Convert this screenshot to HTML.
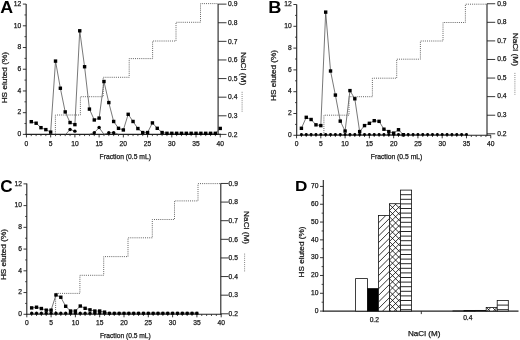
<!DOCTYPE html><html><head><meta charset="utf-8"><style>html,body{margin:0;padding:0;background:#fff;}svg{display:block;will-change:transform;}text{font-family:"Liberation Sans", sans-serif;}.t{stroke:#222;stroke-width:0.25px;}</style></head><body>
<svg width="520" height="340" viewBox="0 0 520 340">
<rect width="520" height="340" fill="#fff"/>
<line x1="26.15" y1="4.1" x2="26.15" y2="134.9" stroke="#222" stroke-width="1.1" />
<line x1="218.1" y1="4.1" x2="218.1" y2="134.9" stroke="#222" stroke-width="1.1" />
<line x1="25.65" y1="134.4" x2="221" y2="134.4" stroke="#222" stroke-width="1.1" />
<line x1="22.85" y1="134.4" x2="26.15" y2="134.4" stroke="#222" stroke-width="0.9" />
<text x="21.25" y="136.1" font-size="6.7" text-anchor="end" fill="#111" class="t" >0</text>
<line x1="24.45" y1="123.54" x2="26.15" y2="123.54" stroke="#222" stroke-width="0.8" />
<line x1="22.85" y1="112.68" x2="26.15" y2="112.68" stroke="#222" stroke-width="0.9" />
<text x="21.25" y="114.38" font-size="6.7" text-anchor="end" fill="#111" class="t" >2</text>
<line x1="24.45" y1="101.82" x2="26.15" y2="101.82" stroke="#222" stroke-width="0.8" />
<line x1="22.85" y1="90.96" x2="26.15" y2="90.96" stroke="#222" stroke-width="0.9" />
<text x="21.25" y="92.66" font-size="6.7" text-anchor="end" fill="#111" class="t" >4</text>
<line x1="24.45" y1="80.1" x2="26.15" y2="80.1" stroke="#222" stroke-width="0.8" />
<line x1="22.85" y1="69.24" x2="26.15" y2="69.24" stroke="#222" stroke-width="0.9" />
<text x="21.25" y="70.94" font-size="6.7" text-anchor="end" fill="#111" class="t" >6</text>
<line x1="24.45" y1="58.38" x2="26.15" y2="58.38" stroke="#222" stroke-width="0.8" />
<line x1="22.85" y1="47.52" x2="26.15" y2="47.52" stroke="#222" stroke-width="0.9" />
<text x="21.25" y="49.22" font-size="6.7" text-anchor="end" fill="#111" class="t" >8</text>
<line x1="24.45" y1="36.66" x2="26.15" y2="36.66" stroke="#222" stroke-width="0.8" />
<line x1="22.85" y1="25.8" x2="26.15" y2="25.8" stroke="#222" stroke-width="0.9" />
<text x="21.25" y="27.5" font-size="6.7" text-anchor="end" fill="#111" class="t" >10</text>
<line x1="24.45" y1="14.94" x2="26.15" y2="14.94" stroke="#222" stroke-width="0.8" />
<line x1="22.85" y1="4.08" x2="26.15" y2="4.08" stroke="#222" stroke-width="0.9" />
<text x="21.25" y="5.78" font-size="6.7" text-anchor="end" fill="#111" class="t" >12</text>
<line x1="26.45" y1="134.4" x2="26.45" y2="137.4" stroke="#222" stroke-width="0.9" />
<text x="26.45" y="145.6" font-size="6.7" text-anchor="middle" fill="#111" class="t" >0</text>
<line x1="31.29" y1="134.4" x2="31.29" y2="136.1" stroke="#222" stroke-width="0.8" />
<line x1="36.14" y1="134.4" x2="36.14" y2="136.1" stroke="#222" stroke-width="0.8" />
<line x1="40.98" y1="134.4" x2="40.98" y2="136.1" stroke="#222" stroke-width="0.8" />
<line x1="45.83" y1="134.4" x2="45.83" y2="136.1" stroke="#222" stroke-width="0.8" />
<line x1="50.67" y1="134.4" x2="50.67" y2="137.4" stroke="#222" stroke-width="0.9" />
<text x="50.67" y="145.6" font-size="6.7" text-anchor="middle" fill="#111" class="t" >5</text>
<line x1="55.52" y1="134.4" x2="55.52" y2="136.1" stroke="#222" stroke-width="0.8" />
<line x1="60.36" y1="134.4" x2="60.36" y2="136.1" stroke="#222" stroke-width="0.8" />
<line x1="65.21" y1="134.4" x2="65.21" y2="136.1" stroke="#222" stroke-width="0.8" />
<line x1="70.05" y1="134.4" x2="70.05" y2="136.1" stroke="#222" stroke-width="0.8" />
<line x1="74.9" y1="134.4" x2="74.9" y2="137.4" stroke="#222" stroke-width="0.9" />
<text x="74.9" y="145.6" font-size="6.7" text-anchor="middle" fill="#111" class="t" >10</text>
<line x1="79.74" y1="134.4" x2="79.74" y2="136.1" stroke="#222" stroke-width="0.8" />
<line x1="84.59" y1="134.4" x2="84.59" y2="136.1" stroke="#222" stroke-width="0.8" />
<line x1="89.44" y1="134.4" x2="89.44" y2="136.1" stroke="#222" stroke-width="0.8" />
<line x1="94.28" y1="134.4" x2="94.28" y2="136.1" stroke="#222" stroke-width="0.8" />
<line x1="99.12" y1="134.4" x2="99.12" y2="137.4" stroke="#222" stroke-width="0.9" />
<text x="99.12" y="145.6" font-size="6.7" text-anchor="middle" fill="#111" class="t" >15</text>
<line x1="103.97" y1="134.4" x2="103.97" y2="136.1" stroke="#222" stroke-width="0.8" />
<line x1="108.81" y1="134.4" x2="108.81" y2="136.1" stroke="#222" stroke-width="0.8" />
<line x1="113.66" y1="134.4" x2="113.66" y2="136.1" stroke="#222" stroke-width="0.8" />
<line x1="118.5" y1="134.4" x2="118.5" y2="136.1" stroke="#222" stroke-width="0.8" />
<line x1="123.35" y1="134.4" x2="123.35" y2="137.4" stroke="#222" stroke-width="0.9" />
<text x="123.35" y="145.6" font-size="6.7" text-anchor="middle" fill="#111" class="t" >20</text>
<line x1="128.19" y1="134.4" x2="128.19" y2="136.1" stroke="#222" stroke-width="0.8" />
<line x1="133.04" y1="134.4" x2="133.04" y2="136.1" stroke="#222" stroke-width="0.8" />
<line x1="137.88" y1="134.4" x2="137.88" y2="136.1" stroke="#222" stroke-width="0.8" />
<line x1="142.73" y1="134.4" x2="142.73" y2="136.1" stroke="#222" stroke-width="0.8" />
<line x1="147.57" y1="134.4" x2="147.57" y2="137.4" stroke="#222" stroke-width="0.9" />
<text x="147.57" y="145.6" font-size="6.7" text-anchor="middle" fill="#111" class="t" >25</text>
<line x1="152.42" y1="134.4" x2="152.42" y2="136.1" stroke="#222" stroke-width="0.8" />
<line x1="157.26" y1="134.4" x2="157.26" y2="136.1" stroke="#222" stroke-width="0.8" />
<line x1="162.11" y1="134.4" x2="162.11" y2="136.1" stroke="#222" stroke-width="0.8" />
<line x1="166.95" y1="134.4" x2="166.95" y2="136.1" stroke="#222" stroke-width="0.8" />
<line x1="171.8" y1="134.4" x2="171.8" y2="137.4" stroke="#222" stroke-width="0.9" />
<text x="171.8" y="145.6" font-size="6.7" text-anchor="middle" fill="#111" class="t" >30</text>
<line x1="176.64" y1="134.4" x2="176.64" y2="136.1" stroke="#222" stroke-width="0.8" />
<line x1="181.49" y1="134.4" x2="181.49" y2="136.1" stroke="#222" stroke-width="0.8" />
<line x1="186.33" y1="134.4" x2="186.33" y2="136.1" stroke="#222" stroke-width="0.8" />
<line x1="191.18" y1="134.4" x2="191.18" y2="136.1" stroke="#222" stroke-width="0.8" />
<line x1="196.02" y1="134.4" x2="196.02" y2="137.4" stroke="#222" stroke-width="0.9" />
<text x="196.02" y="145.6" font-size="6.7" text-anchor="middle" fill="#111" class="t" >35</text>
<line x1="200.87" y1="134.4" x2="200.87" y2="136.1" stroke="#222" stroke-width="0.8" />
<line x1="205.71" y1="134.4" x2="205.71" y2="136.1" stroke="#222" stroke-width="0.8" />
<line x1="210.56" y1="134.4" x2="210.56" y2="136.1" stroke="#222" stroke-width="0.8" />
<line x1="215.4" y1="134.4" x2="215.4" y2="136.1" stroke="#222" stroke-width="0.8" />
<line x1="220.25" y1="134.4" x2="220.25" y2="137.4" stroke="#222" stroke-width="0.9" />
<text x="220.25" y="145.6" font-size="6.7" text-anchor="middle" fill="#111" class="t" >40</text>
<line x1="218.1" y1="134.4" x2="226.5" y2="134.4" stroke="#222" stroke-width="0.9" />
<text x="228.1" y="136.6" font-size="6.7" text-anchor="start" fill="#111" class="t" >0.2</text>
<line x1="218.1" y1="115.79" x2="226.5" y2="115.79" stroke="#222" stroke-width="0.9" />
<text x="228.1" y="117.99" font-size="6.7" text-anchor="start" fill="#111" class="t" >0.3</text>
<line x1="218.1" y1="97.18" x2="226.5" y2="97.18" stroke="#222" stroke-width="0.9" />
<text x="228.1" y="99.38" font-size="6.7" text-anchor="start" fill="#111" class="t" >0.4</text>
<line x1="218.1" y1="78.57" x2="226.5" y2="78.57" stroke="#222" stroke-width="0.9" />
<text x="228.1" y="80.77" font-size="6.7" text-anchor="start" fill="#111" class="t" >0.5</text>
<line x1="218.1" y1="59.96" x2="226.5" y2="59.96" stroke="#222" stroke-width="0.9" />
<text x="228.1" y="62.16" font-size="6.7" text-anchor="start" fill="#111" class="t" >0.6</text>
<line x1="218.1" y1="41.35" x2="226.5" y2="41.35" stroke="#222" stroke-width="0.9" />
<text x="228.1" y="43.55" font-size="6.7" text-anchor="start" fill="#111" class="t" >0.7</text>
<line x1="218.1" y1="22.74" x2="226.5" y2="22.74" stroke="#222" stroke-width="0.9" />
<text x="228.1" y="24.94" font-size="6.7" text-anchor="start" fill="#111" class="t" >0.8</text>
<line x1="218.1" y1="4.13" x2="226.5" y2="4.13" stroke="#222" stroke-width="0.9" />
<text x="228.1" y="6.33" font-size="6.7" text-anchor="start" fill="#111" class="t" >0.9</text>
<polyline fill="none" stroke="#555" stroke-width="0.9" stroke-dasharray="1 1.1" points="55.4,134.4 55.4,115 80.4,115 80.4,96.7 103.2,96.7 103.2,77.3 129.2,77.3 129.2,58.6 152.6,58.6 152.6,41 176,41 176,22.3 200.5,22.3 200.5,3.6 218.1,3.6"/>
<polyline fill="none" stroke="#555" stroke-width="0.8" points="31.29,121.69 36.14,123.21 40.98,127.67 45.83,129.62 50.67,132.12 55.52,61.1 60.36,88.25 65.21,111.92 70.05,122.56 74.9,124.63 79.74,30.8 84.59,66.74 89.44,109.1 94.28,119.96 99.12,118.11 103.97,81.51 108.81,102.58 113.66,121.48 118.5,128.32 123.35,129.95 128.19,114.31 133.04,121.48 137.88,128.54 142.73,132.55 147.57,132.55 152.42,122.89 157.26,128.32 162.11,132.55 166.95,133.31 171.8,133.31 176.64,133.31 181.49,133.31 186.33,133.31 191.18,133.31 196.02,133.31 200.87,133.31 205.71,133.31 210.56,133.31 215.4,133.31 220.25,128.43"/>
<polyline fill="none" stroke="#555" stroke-width="0.8" points="65.69,134.4 70.05,129.51 74.9,131.14"/>
<polyline fill="none" stroke="#555" stroke-width="0.8" points="89.44,134.4 94.28,132.77 99.12,127.56 103.97,134.4 108.81,132.77 113.66,132.77 118.5,134.4"/>
<rect x="29.59" y="119.99" width="3.4" height="3.4" fill="#000"/>
<rect x="34.44" y="121.51" width="3.4" height="3.4" fill="#000"/>
<rect x="39.28" y="125.97" width="3.4" height="3.4" fill="#000"/>
<rect x="44.13" y="127.92" width="3.4" height="3.4" fill="#000"/>
<rect x="48.97" y="130.42" width="3.4" height="3.4" fill="#000"/>
<rect x="53.82" y="59.4" width="3.4" height="3.4" fill="#000"/>
<rect x="58.66" y="86.55" width="3.4" height="3.4" fill="#000"/>
<rect x="63.51" y="110.22" width="3.4" height="3.4" fill="#000"/>
<rect x="68.35" y="120.86" width="3.4" height="3.4" fill="#000"/>
<rect x="73.2" y="122.93" width="3.4" height="3.4" fill="#000"/>
<rect x="78.04" y="29.1" width="3.4" height="3.4" fill="#000"/>
<rect x="82.89" y="65.04" width="3.4" height="3.4" fill="#000"/>
<rect x="87.73" y="107.4" width="3.4" height="3.4" fill="#000"/>
<rect x="92.58" y="118.26" width="3.4" height="3.4" fill="#000"/>
<rect x="97.42" y="116.41" width="3.4" height="3.4" fill="#000"/>
<rect x="102.27" y="79.81" width="3.4" height="3.4" fill="#000"/>
<rect x="107.11" y="100.88" width="3.4" height="3.4" fill="#000"/>
<rect x="111.96" y="119.78" width="3.4" height="3.4" fill="#000"/>
<rect x="116.8" y="126.62" width="3.4" height="3.4" fill="#000"/>
<rect x="121.65" y="128.25" width="3.4" height="3.4" fill="#000"/>
<rect x="126.49" y="112.61" width="3.4" height="3.4" fill="#000"/>
<rect x="131.34" y="119.78" width="3.4" height="3.4" fill="#000"/>
<rect x="136.19" y="126.84" width="3.4" height="3.4" fill="#000"/>
<rect x="141.03" y="130.85" width="3.4" height="3.4" fill="#000"/>
<rect x="145.88" y="130.85" width="3.4" height="3.4" fill="#000"/>
<rect x="150.72" y="121.19" width="3.4" height="3.4" fill="#000"/>
<rect x="155.56" y="126.62" width="3.4" height="3.4" fill="#000"/>
<rect x="160.41" y="130.85" width="3.4" height="3.4" fill="#000"/>
<rect x="165.25" y="131.61" width="3.4" height="3.4" fill="#000"/>
<rect x="170.1" y="131.61" width="3.4" height="3.4" fill="#000"/>
<rect x="174.94" y="131.61" width="3.4" height="3.4" fill="#000"/>
<rect x="179.79" y="131.61" width="3.4" height="3.4" fill="#000"/>
<rect x="184.63" y="131.61" width="3.4" height="3.4" fill="#000"/>
<rect x="189.48" y="131.61" width="3.4" height="3.4" fill="#000"/>
<rect x="194.32" y="131.61" width="3.4" height="3.4" fill="#000"/>
<rect x="199.17" y="131.61" width="3.4" height="3.4" fill="#000"/>
<rect x="204.01" y="131.61" width="3.4" height="3.4" fill="#000"/>
<rect x="208.86" y="131.61" width="3.4" height="3.4" fill="#000"/>
<rect x="213.7" y="131.61" width="3.4" height="3.4" fill="#000"/>
<rect x="218.55" y="126.73" width="3.4" height="3.4" fill="#000"/>
<circle cx="70.05" cy="129.51" r="1.7" fill="#000"/>
<circle cx="74.9" cy="131.14" r="1.7" fill="#000"/>
<circle cx="94.28" cy="132.77" r="1.7" fill="#000"/>
<circle cx="99.12" cy="127.56" r="1.7" fill="#000"/>
<circle cx="108.81" cy="132.77" r="1.7" fill="#000"/>
<circle cx="113.66" cy="132.77" r="1.7" fill="#000"/>
<text x="0" y="0" font-size="16.5" text-anchor="start" fill="#000" font-weight="bold" transform="translate(0.3,12.9) scale(1.08,1)">A</text>
<text x="0" y="0" font-size="7.2" text-anchor="middle" fill="#111" textLength="51.3" lengthAdjust="spacingAndGlyphs" class="t" transform="translate(6.8,77.7) rotate(-90)">HS eluted (%)</text>
<text x="99.6" y="158.6" font-size="6.7" text-anchor="start" fill="#111" textLength="51.3" lengthAdjust="spacingAndGlyphs" class="t" >Fraction (0.5 mL)</text>
<text x="0" y="0" font-size="7.2" text-anchor="middle" fill="#111" textLength="33.3" lengthAdjust="spacingAndGlyphs" class="t" transform="translate(241.1,68.6) rotate(90)">NaCl (M)</text>
<line x1="242.1" y1="91.8" x2="242.1" y2="111.8" stroke="#777" stroke-width="0.9" stroke-dasharray="1 1.1"/>
<line x1="296.7" y1="4.6" x2="296.7" y2="135.8" stroke="#222" stroke-width="1.1" />
<line x1="487" y1="3.75" x2="487" y2="135.8" stroke="#222" stroke-width="1.1" />
<line x1="296.2" y1="135.3" x2="491" y2="135.3" stroke="#222" stroke-width="1.1" />
<line x1="293.4" y1="135.3" x2="296.7" y2="135.3" stroke="#222" stroke-width="0.9" />
<text x="291.8" y="137" font-size="6.7" text-anchor="end" fill="#111" class="t" >0</text>
<line x1="295" y1="124.4" x2="296.7" y2="124.4" stroke="#222" stroke-width="0.8" />
<line x1="293.4" y1="113.5" x2="296.7" y2="113.5" stroke="#222" stroke-width="0.9" />
<text x="291.8" y="115.2" font-size="6.7" text-anchor="end" fill="#111" class="t" >2</text>
<line x1="295" y1="102.6" x2="296.7" y2="102.6" stroke="#222" stroke-width="0.8" />
<line x1="293.4" y1="91.7" x2="296.7" y2="91.7" stroke="#222" stroke-width="0.9" />
<text x="291.8" y="93.4" font-size="6.7" text-anchor="end" fill="#111" class="t" >4</text>
<line x1="295" y1="80.8" x2="296.7" y2="80.8" stroke="#222" stroke-width="0.8" />
<line x1="293.4" y1="69.9" x2="296.7" y2="69.9" stroke="#222" stroke-width="0.9" />
<text x="291.8" y="71.6" font-size="6.7" text-anchor="end" fill="#111" class="t" >6</text>
<line x1="295" y1="59" x2="296.7" y2="59" stroke="#222" stroke-width="0.8" />
<line x1="293.4" y1="48.1" x2="296.7" y2="48.1" stroke="#222" stroke-width="0.9" />
<text x="291.8" y="49.8" font-size="6.7" text-anchor="end" fill="#111" class="t" >8</text>
<line x1="295" y1="37.2" x2="296.7" y2="37.2" stroke="#222" stroke-width="0.8" />
<line x1="293.4" y1="26.3" x2="296.7" y2="26.3" stroke="#222" stroke-width="0.9" />
<text x="291.8" y="28" font-size="6.7" text-anchor="end" fill="#111" class="t" >10</text>
<line x1="295" y1="15.4" x2="296.7" y2="15.4" stroke="#222" stroke-width="0.8" />
<line x1="293.4" y1="4.5" x2="296.7" y2="4.5" stroke="#222" stroke-width="0.9" />
<text x="291.8" y="6.2" font-size="6.7" text-anchor="end" fill="#111" class="t" >12</text>
<line x1="296.55" y1="135.3" x2="296.55" y2="138.3" stroke="#222" stroke-width="0.9" />
<text x="296.55" y="146.1" font-size="6.7" text-anchor="middle" fill="#111" class="t" >0</text>
<line x1="301.41" y1="135.3" x2="301.41" y2="137" stroke="#222" stroke-width="0.8" />
<line x1="306.26" y1="135.3" x2="306.26" y2="137" stroke="#222" stroke-width="0.8" />
<line x1="311.12" y1="135.3" x2="311.12" y2="137" stroke="#222" stroke-width="0.8" />
<line x1="315.97" y1="135.3" x2="315.97" y2="137" stroke="#222" stroke-width="0.8" />
<line x1="320.82" y1="135.3" x2="320.82" y2="138.3" stroke="#222" stroke-width="0.9" />
<text x="320.82" y="146.1" font-size="6.7" text-anchor="middle" fill="#111" class="t" >5</text>
<line x1="325.68" y1="135.3" x2="325.68" y2="137" stroke="#222" stroke-width="0.8" />
<line x1="330.54" y1="135.3" x2="330.54" y2="137" stroke="#222" stroke-width="0.8" />
<line x1="335.39" y1="135.3" x2="335.39" y2="137" stroke="#222" stroke-width="0.8" />
<line x1="340.25" y1="135.3" x2="340.25" y2="137" stroke="#222" stroke-width="0.8" />
<line x1="345.1" y1="135.3" x2="345.1" y2="138.3" stroke="#222" stroke-width="0.9" />
<text x="345.1" y="146.1" font-size="6.7" text-anchor="middle" fill="#111" class="t" >10</text>
<line x1="349.96" y1="135.3" x2="349.96" y2="137" stroke="#222" stroke-width="0.8" />
<line x1="354.81" y1="135.3" x2="354.81" y2="137" stroke="#222" stroke-width="0.8" />
<line x1="359.67" y1="135.3" x2="359.67" y2="137" stroke="#222" stroke-width="0.8" />
<line x1="364.52" y1="135.3" x2="364.52" y2="137" stroke="#222" stroke-width="0.8" />
<line x1="369.38" y1="135.3" x2="369.38" y2="138.3" stroke="#222" stroke-width="0.9" />
<text x="369.38" y="146.1" font-size="6.7" text-anchor="middle" fill="#111" class="t" >15</text>
<line x1="374.23" y1="135.3" x2="374.23" y2="137" stroke="#222" stroke-width="0.8" />
<line x1="379.09" y1="135.3" x2="379.09" y2="137" stroke="#222" stroke-width="0.8" />
<line x1="383.94" y1="135.3" x2="383.94" y2="137" stroke="#222" stroke-width="0.8" />
<line x1="388.8" y1="135.3" x2="388.8" y2="137" stroke="#222" stroke-width="0.8" />
<line x1="393.65" y1="135.3" x2="393.65" y2="138.3" stroke="#222" stroke-width="0.9" />
<text x="393.65" y="146.1" font-size="6.7" text-anchor="middle" fill="#111" class="t" >20</text>
<line x1="398.5" y1="135.3" x2="398.5" y2="137" stroke="#222" stroke-width="0.8" />
<line x1="403.36" y1="135.3" x2="403.36" y2="137" stroke="#222" stroke-width="0.8" />
<line x1="408.22" y1="135.3" x2="408.22" y2="137" stroke="#222" stroke-width="0.8" />
<line x1="413.07" y1="135.3" x2="413.07" y2="137" stroke="#222" stroke-width="0.8" />
<line x1="417.93" y1="135.3" x2="417.93" y2="138.3" stroke="#222" stroke-width="0.9" />
<text x="417.93" y="146.1" font-size="6.7" text-anchor="middle" fill="#111" class="t" >25</text>
<line x1="422.78" y1="135.3" x2="422.78" y2="137" stroke="#222" stroke-width="0.8" />
<line x1="427.63" y1="135.3" x2="427.63" y2="137" stroke="#222" stroke-width="0.8" />
<line x1="432.49" y1="135.3" x2="432.49" y2="137" stroke="#222" stroke-width="0.8" />
<line x1="437.35" y1="135.3" x2="437.35" y2="137" stroke="#222" stroke-width="0.8" />
<line x1="442.2" y1="135.3" x2="442.2" y2="138.3" stroke="#222" stroke-width="0.9" />
<text x="442.2" y="146.1" font-size="6.7" text-anchor="middle" fill="#111" class="t" >30</text>
<line x1="447.06" y1="135.3" x2="447.06" y2="137" stroke="#222" stroke-width="0.8" />
<line x1="451.91" y1="135.3" x2="451.91" y2="137" stroke="#222" stroke-width="0.8" />
<line x1="456.76" y1="135.3" x2="456.76" y2="137" stroke="#222" stroke-width="0.8" />
<line x1="461.62" y1="135.3" x2="461.62" y2="137" stroke="#222" stroke-width="0.8" />
<line x1="466.48" y1="135.3" x2="466.48" y2="138.3" stroke="#222" stroke-width="0.9" />
<text x="466.48" y="146.1" font-size="6.7" text-anchor="middle" fill="#111" class="t" >35</text>
<line x1="471.33" y1="135.3" x2="471.33" y2="137" stroke="#222" stroke-width="0.8" />
<line x1="476.19" y1="135.3" x2="476.19" y2="137" stroke="#222" stroke-width="0.8" />
<line x1="481.04" y1="135.3" x2="481.04" y2="137" stroke="#222" stroke-width="0.8" />
<line x1="485.9" y1="135.3" x2="485.9" y2="137" stroke="#222" stroke-width="0.8" />
<line x1="490.75" y1="135.3" x2="490.75" y2="138.3" stroke="#222" stroke-width="0.9" />
<text x="490.75" y="146.1" font-size="6.7" text-anchor="middle" fill="#111" class="t" >40</text>
<line x1="487" y1="133.8" x2="495.2" y2="133.8" stroke="#222" stroke-width="0.9" />
<text x="497.2" y="135.6" font-size="6.7" text-anchor="start" fill="#111" class="t" >0.2</text>
<line x1="487" y1="115.22" x2="495.2" y2="115.22" stroke="#222" stroke-width="0.9" />
<text x="497.2" y="117.02" font-size="6.7" text-anchor="start" fill="#111" class="t" >0.3</text>
<line x1="487" y1="96.64" x2="495.2" y2="96.64" stroke="#222" stroke-width="0.9" />
<text x="497.2" y="98.44" font-size="6.7" text-anchor="start" fill="#111" class="t" >0.4</text>
<line x1="487" y1="78.06" x2="495.2" y2="78.06" stroke="#222" stroke-width="0.9" />
<text x="497.2" y="79.86" font-size="6.7" text-anchor="start" fill="#111" class="t" >0.5</text>
<line x1="487" y1="59.48" x2="495.2" y2="59.48" stroke="#222" stroke-width="0.9" />
<text x="497.2" y="61.28" font-size="6.7" text-anchor="start" fill="#111" class="t" >0.6</text>
<line x1="487" y1="40.9" x2="495.2" y2="40.9" stroke="#222" stroke-width="0.9" />
<text x="497.2" y="42.7" font-size="6.7" text-anchor="start" fill="#111" class="t" >0.7</text>
<line x1="487" y1="22.32" x2="495.2" y2="22.32" stroke="#222" stroke-width="0.9" />
<text x="497.2" y="24.12" font-size="6.7" text-anchor="start" fill="#111" class="t" >0.8</text>
<line x1="487" y1="3.74" x2="495.2" y2="3.74" stroke="#222" stroke-width="0.9" />
<text x="497.2" y="5.54" font-size="6.7" text-anchor="start" fill="#111" class="t" >0.9</text>
<polyline fill="none" stroke="#555" stroke-width="0.9" stroke-dasharray="1 1.1" points="323.9,135.3 323.9,115.2 349,115.2 349,96.7 372.4,96.7 372.4,78.2 396.7,78.2 396.7,59.2 420.4,59.2 420.4,41 443,41 443,22.5 465.4,22.5 465.4,4.2 487,4.2"/>
<polyline fill="none" stroke="#555" stroke-width="0.8" points="301.41,128.32 306.26,117.32 311.12,119.5 315.97,124.84 320.82,125.6 325.68,12.13 330.54,70.99 335.39,95.08 340.25,121.13 345.1,131.05 349.96,90.61 354.81,98.79 359.67,131.59 364.52,125.6 369.38,123.31 374.23,120.69 379.09,121.35 383.94,129.2 388.8,131.59 393.65,133.12 398.5,129.74 403.36,134.76"/>
<polyline fill="none" stroke="#555" stroke-width="0.8" points="301.41,134.43 306.26,134.43 311.12,134.43 315.97,134.43 320.82,134.43 325.68,134.43 330.54,134.43 335.39,134.43 340.25,134.43 345.1,134.43 349.96,134.43 354.81,134.43 359.67,134.43 364.52,134.43 369.38,134.43 374.23,134.43 379.09,134.43 383.94,134.43 388.8,134.43 393.65,134.43 398.5,134.43 403.36,134.43 408.22,134.43 413.07,134.43 417.93,134.43 422.78,134.43 427.63,134.43 432.49,134.43 437.35,134.43 442.2,134.43 447.06,134.43 451.91,134.43 456.76,134.43 461.62,134.43 466.48,134.43"/>
<rect x="299.71" y="126.62" width="3.4" height="3.4" fill="#000"/>
<rect x="304.56" y="115.62" width="3.4" height="3.4" fill="#000"/>
<rect x="309.42" y="117.8" width="3.4" height="3.4" fill="#000"/>
<rect x="314.27" y="123.14" width="3.4" height="3.4" fill="#000"/>
<rect x="319.12" y="123.9" width="3.4" height="3.4" fill="#000"/>
<rect x="323.98" y="10.43" width="3.4" height="3.4" fill="#000"/>
<rect x="328.84" y="69.29" width="3.4" height="3.4" fill="#000"/>
<rect x="333.69" y="93.38" width="3.4" height="3.4" fill="#000"/>
<rect x="338.55" y="119.43" width="3.4" height="3.4" fill="#000"/>
<rect x="343.4" y="129.35" width="3.4" height="3.4" fill="#000"/>
<rect x="348.26" y="88.91" width="3.4" height="3.4" fill="#000"/>
<rect x="353.11" y="97.09" width="3.4" height="3.4" fill="#000"/>
<rect x="357.97" y="129.89" width="3.4" height="3.4" fill="#000"/>
<rect x="362.82" y="123.9" width="3.4" height="3.4" fill="#000"/>
<rect x="367.68" y="121.61" width="3.4" height="3.4" fill="#000"/>
<rect x="372.53" y="118.99" width="3.4" height="3.4" fill="#000"/>
<rect x="377.39" y="119.65" width="3.4" height="3.4" fill="#000"/>
<rect x="382.24" y="127.5" width="3.4" height="3.4" fill="#000"/>
<rect x="387.1" y="129.89" width="3.4" height="3.4" fill="#000"/>
<rect x="391.95" y="131.42" width="3.4" height="3.4" fill="#000"/>
<rect x="396.81" y="128.04" width="3.4" height="3.4" fill="#000"/>
<rect x="401.66" y="133.06" width="3.4" height="3.4" fill="#000"/>
<circle cx="301.41" cy="134.43" r="1.45" fill="#000"/>
<circle cx="306.26" cy="134.43" r="1.45" fill="#000"/>
<circle cx="311.12" cy="134.43" r="1.45" fill="#000"/>
<circle cx="315.97" cy="134.43" r="1.45" fill="#000"/>
<circle cx="320.82" cy="134.43" r="1.45" fill="#000"/>
<circle cx="325.68" cy="134.43" r="1.45" fill="#000"/>
<circle cx="330.54" cy="134.43" r="1.45" fill="#000"/>
<circle cx="335.39" cy="134.43" r="1.45" fill="#000"/>
<circle cx="340.25" cy="134.43" r="1.45" fill="#000"/>
<circle cx="345.1" cy="134.43" r="1.45" fill="#000"/>
<circle cx="349.96" cy="134.43" r="1.45" fill="#000"/>
<circle cx="354.81" cy="134.43" r="1.45" fill="#000"/>
<circle cx="359.67" cy="134.43" r="1.45" fill="#000"/>
<circle cx="364.52" cy="134.43" r="1.45" fill="#000"/>
<circle cx="369.38" cy="134.43" r="1.45" fill="#000"/>
<circle cx="374.23" cy="134.43" r="1.45" fill="#000"/>
<circle cx="379.09" cy="134.43" r="1.45" fill="#000"/>
<circle cx="383.94" cy="134.43" r="1.45" fill="#000"/>
<circle cx="388.8" cy="134.43" r="1.45" fill="#000"/>
<circle cx="393.65" cy="134.43" r="1.45" fill="#000"/>
<circle cx="398.5" cy="134.43" r="1.45" fill="#000"/>
<circle cx="403.36" cy="134.43" r="1.45" fill="#000"/>
<circle cx="408.22" cy="134.43" r="1.45" fill="#000"/>
<circle cx="413.07" cy="134.43" r="1.45" fill="#000"/>
<circle cx="417.93" cy="134.43" r="1.45" fill="#000"/>
<circle cx="422.78" cy="134.43" r="1.45" fill="#000"/>
<circle cx="427.63" cy="134.43" r="1.45" fill="#000"/>
<circle cx="432.49" cy="134.43" r="1.45" fill="#000"/>
<circle cx="437.35" cy="134.43" r="1.45" fill="#000"/>
<circle cx="442.2" cy="134.43" r="1.45" fill="#000"/>
<circle cx="447.06" cy="134.43" r="1.45" fill="#000"/>
<circle cx="451.91" cy="134.43" r="1.45" fill="#000"/>
<circle cx="456.76" cy="134.43" r="1.45" fill="#000"/>
<circle cx="461.62" cy="134.43" r="1.45" fill="#000"/>
<circle cx="466.48" cy="134.43" r="1.45" fill="#000"/>
<text x="0" y="0" font-size="15.6" text-anchor="start" fill="#000" font-weight="bold" transform="translate(268.3,12.8) scale(1.17,1)">B</text>
<text x="0" y="0" font-size="7.2" text-anchor="middle" fill="#111" textLength="51" lengthAdjust="spacingAndGlyphs" class="t" transform="translate(276.3,75.4) rotate(-90)">HS eluted (%)</text>
<text x="370.8" y="158.5" font-size="6.7" text-anchor="start" fill="#111" textLength="51.5" lengthAdjust="spacingAndGlyphs" class="t" >Fraction (0.5 mL)</text>
<text x="0" y="0" font-size="7.2" text-anchor="middle" fill="#111" textLength="33.3" lengthAdjust="spacingAndGlyphs" class="t" transform="translate(513.3,49.3) rotate(90)">NaCl (M)</text>
<line x1="514.9" y1="72.9" x2="514.9" y2="94.7" stroke="#777" stroke-width="0.9" stroke-dasharray="1 1.1"/>
<line x1="26.8" y1="183.5" x2="26.8" y2="314.8" stroke="#222" stroke-width="1.1" />
<line x1="220.8" y1="183.3" x2="220.8" y2="314.8" stroke="#222" stroke-width="1.1" />
<line x1="26.3" y1="314.3" x2="221.5" y2="314.3" stroke="#222" stroke-width="1.1" />
<line x1="23.5" y1="314.3" x2="26.8" y2="314.3" stroke="#222" stroke-width="0.9" />
<text x="21.9" y="316" font-size="6.7" text-anchor="end" fill="#111" class="t" >0</text>
<line x1="25.1" y1="303.43" x2="26.8" y2="303.43" stroke="#222" stroke-width="0.8" />
<line x1="23.5" y1="292.56" x2="26.8" y2="292.56" stroke="#222" stroke-width="0.9" />
<text x="21.9" y="294.26" font-size="6.7" text-anchor="end" fill="#111" class="t" >2</text>
<line x1="25.1" y1="281.69" x2="26.8" y2="281.69" stroke="#222" stroke-width="0.8" />
<line x1="23.5" y1="270.82" x2="26.8" y2="270.82" stroke="#222" stroke-width="0.9" />
<text x="21.9" y="272.52" font-size="6.7" text-anchor="end" fill="#111" class="t" >4</text>
<line x1="25.1" y1="259.95" x2="26.8" y2="259.95" stroke="#222" stroke-width="0.8" />
<line x1="23.5" y1="249.08" x2="26.8" y2="249.08" stroke="#222" stroke-width="0.9" />
<text x="21.9" y="250.78" font-size="6.7" text-anchor="end" fill="#111" class="t" >6</text>
<line x1="25.1" y1="238.21" x2="26.8" y2="238.21" stroke="#222" stroke-width="0.8" />
<line x1="23.5" y1="227.34" x2="26.8" y2="227.34" stroke="#222" stroke-width="0.9" />
<text x="21.9" y="229.04" font-size="6.7" text-anchor="end" fill="#111" class="t" >8</text>
<line x1="25.1" y1="216.47" x2="26.8" y2="216.47" stroke="#222" stroke-width="0.8" />
<line x1="23.5" y1="205.6" x2="26.8" y2="205.6" stroke="#222" stroke-width="0.9" />
<text x="21.9" y="207.3" font-size="6.7" text-anchor="end" fill="#111" class="t" >10</text>
<line x1="25.1" y1="194.73" x2="26.8" y2="194.73" stroke="#222" stroke-width="0.8" />
<line x1="23.5" y1="183.86" x2="26.8" y2="183.86" stroke="#222" stroke-width="0.9" />
<text x="21.9" y="185.56" font-size="6.7" text-anchor="end" fill="#111" class="t" >12</text>
<line x1="26.8" y1="314.3" x2="26.8" y2="317.3" stroke="#222" stroke-width="0.9" />
<text x="26.8" y="324.8" font-size="6.7" text-anchor="middle" fill="#111" class="t" >0</text>
<line x1="31.66" y1="314.3" x2="31.66" y2="316" stroke="#222" stroke-width="0.8" />
<line x1="36.52" y1="314.3" x2="36.52" y2="316" stroke="#222" stroke-width="0.8" />
<line x1="41.38" y1="314.3" x2="41.38" y2="316" stroke="#222" stroke-width="0.8" />
<line x1="46.24" y1="314.3" x2="46.24" y2="316" stroke="#222" stroke-width="0.8" />
<line x1="51.1" y1="314.3" x2="51.1" y2="317.3" stroke="#222" stroke-width="0.9" />
<text x="51.1" y="324.8" font-size="6.7" text-anchor="middle" fill="#111" class="t" >5</text>
<line x1="55.96" y1="314.3" x2="55.96" y2="316" stroke="#222" stroke-width="0.8" />
<line x1="60.82" y1="314.3" x2="60.82" y2="316" stroke="#222" stroke-width="0.8" />
<line x1="65.68" y1="314.3" x2="65.68" y2="316" stroke="#222" stroke-width="0.8" />
<line x1="70.54" y1="314.3" x2="70.54" y2="316" stroke="#222" stroke-width="0.8" />
<line x1="75.4" y1="314.3" x2="75.4" y2="317.3" stroke="#222" stroke-width="0.9" />
<text x="75.4" y="324.8" font-size="6.7" text-anchor="middle" fill="#111" class="t" >10</text>
<line x1="80.26" y1="314.3" x2="80.26" y2="316" stroke="#222" stroke-width="0.8" />
<line x1="85.12" y1="314.3" x2="85.12" y2="316" stroke="#222" stroke-width="0.8" />
<line x1="89.98" y1="314.3" x2="89.98" y2="316" stroke="#222" stroke-width="0.8" />
<line x1="94.84" y1="314.3" x2="94.84" y2="316" stroke="#222" stroke-width="0.8" />
<line x1="99.7" y1="314.3" x2="99.7" y2="317.3" stroke="#222" stroke-width="0.9" />
<text x="99.7" y="324.8" font-size="6.7" text-anchor="middle" fill="#111" class="t" >15</text>
<line x1="104.56" y1="314.3" x2="104.56" y2="316" stroke="#222" stroke-width="0.8" />
<line x1="109.42" y1="314.3" x2="109.42" y2="316" stroke="#222" stroke-width="0.8" />
<line x1="114.28" y1="314.3" x2="114.28" y2="316" stroke="#222" stroke-width="0.8" />
<line x1="119.14" y1="314.3" x2="119.14" y2="316" stroke="#222" stroke-width="0.8" />
<line x1="124" y1="314.3" x2="124" y2="317.3" stroke="#222" stroke-width="0.9" />
<text x="124" y="324.8" font-size="6.7" text-anchor="middle" fill="#111" class="t" >20</text>
<line x1="128.86" y1="314.3" x2="128.86" y2="316" stroke="#222" stroke-width="0.8" />
<line x1="133.72" y1="314.3" x2="133.72" y2="316" stroke="#222" stroke-width="0.8" />
<line x1="138.58" y1="314.3" x2="138.58" y2="316" stroke="#222" stroke-width="0.8" />
<line x1="143.44" y1="314.3" x2="143.44" y2="316" stroke="#222" stroke-width="0.8" />
<line x1="148.3" y1="314.3" x2="148.3" y2="317.3" stroke="#222" stroke-width="0.9" />
<text x="148.3" y="324.8" font-size="6.7" text-anchor="middle" fill="#111" class="t" >25</text>
<line x1="153.16" y1="314.3" x2="153.16" y2="316" stroke="#222" stroke-width="0.8" />
<line x1="158.02" y1="314.3" x2="158.02" y2="316" stroke="#222" stroke-width="0.8" />
<line x1="162.88" y1="314.3" x2="162.88" y2="316" stroke="#222" stroke-width="0.8" />
<line x1="167.74" y1="314.3" x2="167.74" y2="316" stroke="#222" stroke-width="0.8" />
<line x1="172.6" y1="314.3" x2="172.6" y2="317.3" stroke="#222" stroke-width="0.9" />
<text x="172.6" y="324.8" font-size="6.7" text-anchor="middle" fill="#111" class="t" >30</text>
<line x1="177.46" y1="314.3" x2="177.46" y2="316" stroke="#222" stroke-width="0.8" />
<line x1="182.32" y1="314.3" x2="182.32" y2="316" stroke="#222" stroke-width="0.8" />
<line x1="187.18" y1="314.3" x2="187.18" y2="316" stroke="#222" stroke-width="0.8" />
<line x1="192.04" y1="314.3" x2="192.04" y2="316" stroke="#222" stroke-width="0.8" />
<line x1="196.9" y1="314.3" x2="196.9" y2="317.3" stroke="#222" stroke-width="0.9" />
<text x="196.9" y="324.8" font-size="6.7" text-anchor="middle" fill="#111" class="t" >35</text>
<line x1="201.76" y1="314.3" x2="201.76" y2="316" stroke="#222" stroke-width="0.8" />
<line x1="206.62" y1="314.3" x2="206.62" y2="316" stroke="#222" stroke-width="0.8" />
<line x1="211.48" y1="314.3" x2="211.48" y2="316" stroke="#222" stroke-width="0.8" />
<line x1="216.34" y1="314.3" x2="216.34" y2="316" stroke="#222" stroke-width="0.8" />
<line x1="221.2" y1="314.3" x2="221.2" y2="317.3" stroke="#222" stroke-width="0.9" />
<text x="221.2" y="324.8" font-size="6.7" text-anchor="middle" fill="#111" class="t" >40</text>
<line x1="220.8" y1="313.8" x2="228.5" y2="313.8" stroke="#222" stroke-width="0.9" />
<text x="228.6" y="316" font-size="6.7" text-anchor="start" fill="#111" class="t" >0.2</text>
<line x1="220.8" y1="295.18" x2="228.5" y2="295.18" stroke="#222" stroke-width="0.9" />
<text x="228.6" y="297.38" font-size="6.7" text-anchor="start" fill="#111" class="t" >0.3</text>
<line x1="220.8" y1="276.56" x2="228.5" y2="276.56" stroke="#222" stroke-width="0.9" />
<text x="228.6" y="278.76" font-size="6.7" text-anchor="start" fill="#111" class="t" >0.4</text>
<line x1="220.8" y1="257.94" x2="228.5" y2="257.94" stroke="#222" stroke-width="0.9" />
<text x="228.6" y="260.14" font-size="6.7" text-anchor="start" fill="#111" class="t" >0.5</text>
<line x1="220.8" y1="239.32" x2="228.5" y2="239.32" stroke="#222" stroke-width="0.9" />
<text x="228.6" y="241.52" font-size="6.7" text-anchor="start" fill="#111" class="t" >0.6</text>
<line x1="220.8" y1="220.7" x2="228.5" y2="220.7" stroke="#222" stroke-width="0.9" />
<text x="228.6" y="222.9" font-size="6.7" text-anchor="start" fill="#111" class="t" >0.7</text>
<line x1="220.8" y1="202.08" x2="228.5" y2="202.08" stroke="#222" stroke-width="0.9" />
<text x="228.6" y="204.28" font-size="6.7" text-anchor="start" fill="#111" class="t" >0.8</text>
<line x1="220.8" y1="183.46" x2="228.5" y2="183.46" stroke="#222" stroke-width="0.9" />
<text x="228.6" y="185.66" font-size="6.7" text-anchor="start" fill="#111" class="t" >0.9</text>
<polyline fill="none" stroke="#555" stroke-width="0.9" stroke-dasharray="1 1.1" points="55.6,314.3 55.6,293.4 79.9,293.4 79.9,275.3 103.7,275.3 103.7,256.6 128,256.6 128,237.8 152.3,237.8 152.3,219.5 174.5,219.5 174.5,200.9 198,200.9 198,183.6 220.8,183.6"/>
<polyline fill="none" stroke="#555" stroke-width="0.8" points="31.66,307.89 36.52,307.23 41.38,308.54 46.24,310.17 51.1,310.17 55.96,294.95 60.82,297.23 65.68,306.26 70.54,311.04 75.4,311.04 80.26,306.04 85.12,308.32 89.98,309.84 94.84,311.04 99.7,311.04 104.56,312.13 109.42,313.21 114.28,313.21 119.14,313.21 124,313.21 128.86,313.21 133.72,313.21 138.58,313.21 143.44,313.21 148.3,313.21 153.16,313.21 158.02,313.21 162.88,313.21 167.74,313.21 172.6,313.21 177.46,313.21 182.32,313.21 187.18,313.21 192.04,313.21 196.9,313.21"/>
<polyline fill="none" stroke="#555" stroke-width="0.8" points="31.66,313.21 36.52,313.21 41.38,313.21 46.24,313.21 51.1,313.21 55.96,313.21 60.82,313.21 65.68,313.21 70.54,313.21 75.4,313.21 80.26,313.21 85.12,313.21 89.98,313.21 94.84,313.21 99.7,313.21 104.56,313.21 109.42,313.21 114.28,313.21 119.14,313.21 124,313.21 128.86,313.21 133.72,313.21 138.58,313.21 143.44,313.21 148.3,313.21 153.16,313.21 158.02,313.21 162.88,313.21 167.74,313.21 172.6,313.21 177.46,313.21 182.32,313.21 187.18,313.21 192.04,313.21 196.9,313.21"/>
<rect x="29.96" y="306.19" width="3.4" height="3.4" fill="#000"/>
<rect x="34.82" y="305.53" width="3.4" height="3.4" fill="#000"/>
<rect x="39.68" y="306.84" width="3.4" height="3.4" fill="#000"/>
<rect x="44.54" y="308.47" width="3.4" height="3.4" fill="#000"/>
<rect x="49.4" y="308.47" width="3.4" height="3.4" fill="#000"/>
<rect x="54.26" y="293.25" width="3.4" height="3.4" fill="#000"/>
<rect x="59.12" y="295.53" width="3.4" height="3.4" fill="#000"/>
<rect x="63.98" y="304.56" width="3.4" height="3.4" fill="#000"/>
<rect x="68.84" y="309.34" width="3.4" height="3.4" fill="#000"/>
<rect x="73.7" y="309.34" width="3.4" height="3.4" fill="#000"/>
<rect x="78.56" y="304.34" width="3.4" height="3.4" fill="#000"/>
<rect x="83.42" y="306.62" width="3.4" height="3.4" fill="#000"/>
<rect x="88.28" y="308.14" width="3.4" height="3.4" fill="#000"/>
<rect x="93.14" y="309.34" width="3.4" height="3.4" fill="#000"/>
<rect x="98" y="309.34" width="3.4" height="3.4" fill="#000"/>
<rect x="102.86" y="310.43" width="3.4" height="3.4" fill="#000"/>
<rect x="107.97" y="311.76" width="2.9" height="2.9" fill="#000"/>
<rect x="112.83" y="311.76" width="2.9" height="2.9" fill="#000"/>
<rect x="117.69" y="311.76" width="2.9" height="2.9" fill="#000"/>
<rect x="122.55" y="311.76" width="2.9" height="2.9" fill="#000"/>
<rect x="127.41" y="311.76" width="2.9" height="2.9" fill="#000"/>
<rect x="132.27" y="311.76" width="2.9" height="2.9" fill="#000"/>
<rect x="137.13" y="311.76" width="2.9" height="2.9" fill="#000"/>
<rect x="141.99" y="311.76" width="2.9" height="2.9" fill="#000"/>
<rect x="146.85" y="311.76" width="2.9" height="2.9" fill="#000"/>
<rect x="151.71" y="311.76" width="2.9" height="2.9" fill="#000"/>
<rect x="156.57" y="311.76" width="2.9" height="2.9" fill="#000"/>
<rect x="161.43" y="311.76" width="2.9" height="2.9" fill="#000"/>
<rect x="166.29" y="311.76" width="2.9" height="2.9" fill="#000"/>
<rect x="171.15" y="311.76" width="2.9" height="2.9" fill="#000"/>
<rect x="176.01" y="311.76" width="2.9" height="2.9" fill="#000"/>
<rect x="180.87" y="311.76" width="2.9" height="2.9" fill="#000"/>
<rect x="185.73" y="311.76" width="2.9" height="2.9" fill="#000"/>
<rect x="190.59" y="311.76" width="2.9" height="2.9" fill="#000"/>
<rect x="195.45" y="311.76" width="2.9" height="2.9" fill="#000"/>
<circle cx="31.66" cy="313.21" r="1.6" fill="#000"/>
<circle cx="36.52" cy="313.21" r="1.6" fill="#000"/>
<circle cx="41.38" cy="313.21" r="1.6" fill="#000"/>
<circle cx="46.24" cy="313.21" r="1.6" fill="#000"/>
<circle cx="51.1" cy="313.21" r="1.6" fill="#000"/>
<circle cx="55.96" cy="313.21" r="1.6" fill="#000"/>
<circle cx="60.82" cy="313.21" r="1.6" fill="#000"/>
<circle cx="65.68" cy="313.21" r="1.6" fill="#000"/>
<circle cx="70.54" cy="313.21" r="1.6" fill="#000"/>
<circle cx="75.4" cy="313.21" r="1.6" fill="#000"/>
<circle cx="80.26" cy="313.21" r="1.6" fill="#000"/>
<circle cx="85.12" cy="313.21" r="1.6" fill="#000"/>
<circle cx="89.98" cy="313.21" r="1.6" fill="#000"/>
<circle cx="94.84" cy="313.21" r="1.6" fill="#000"/>
<circle cx="99.7" cy="313.21" r="1.6" fill="#000"/>
<circle cx="104.56" cy="313.21" r="1.6" fill="#000"/>
<circle cx="109.42" cy="313.21" r="1.45" fill="#000"/>
<circle cx="114.28" cy="313.21" r="1.45" fill="#000"/>
<circle cx="119.14" cy="313.21" r="1.45" fill="#000"/>
<circle cx="124" cy="313.21" r="1.45" fill="#000"/>
<circle cx="128.86" cy="313.21" r="1.45" fill="#000"/>
<circle cx="133.72" cy="313.21" r="1.45" fill="#000"/>
<circle cx="138.58" cy="313.21" r="1.45" fill="#000"/>
<circle cx="143.44" cy="313.21" r="1.45" fill="#000"/>
<circle cx="148.3" cy="313.21" r="1.45" fill="#000"/>
<circle cx="153.16" cy="313.21" r="1.45" fill="#000"/>
<circle cx="158.02" cy="313.21" r="1.45" fill="#000"/>
<circle cx="162.88" cy="313.21" r="1.45" fill="#000"/>
<circle cx="167.74" cy="313.21" r="1.45" fill="#000"/>
<circle cx="172.6" cy="313.21" r="1.45" fill="#000"/>
<circle cx="177.46" cy="313.21" r="1.45" fill="#000"/>
<circle cx="182.32" cy="313.21" r="1.45" fill="#000"/>
<circle cx="187.18" cy="313.21" r="1.45" fill="#000"/>
<circle cx="192.04" cy="313.21" r="1.45" fill="#000"/>
<circle cx="196.9" cy="313.21" r="1.45" fill="#000"/>
<text x="0" y="0" font-size="15.6" text-anchor="start" fill="#000" font-weight="bold" transform="translate(0.3,192.1) scale(1.1,1)">C</text>
<text x="0" y="0" font-size="7.2" text-anchor="middle" fill="#111" textLength="51" lengthAdjust="spacingAndGlyphs" class="t" transform="translate(6.3,254.6) rotate(-90)">HS eluted (%)</text>
<text x="100" y="337.8" font-size="6.7" text-anchor="start" fill="#111" textLength="50.8" lengthAdjust="spacingAndGlyphs" class="t" >Fraction (0.5 mL)</text>
<text x="0" y="0" font-size="7.2" text-anchor="middle" fill="#111" textLength="33" lengthAdjust="spacingAndGlyphs" class="t" transform="translate(243.6,227.6) rotate(90)">NaCl (M)</text>
<line x1="244.6" y1="253.6" x2="244.6" y2="271.5" stroke="#777" stroke-width="0.9" stroke-dasharray="1 1.1"/>
<line x1="323.3" y1="179.9" x2="323.3" y2="311.6" stroke="#222" stroke-width="1.1" />
<line x1="322.8" y1="311.1" x2="518.5" y2="311.1" stroke="#222" stroke-width="1.1" />
<line x1="320" y1="311.1" x2="323.3" y2="311.1" stroke="#222" stroke-width="0.9" />
<text x="318.5" y="312.8" font-size="6.7" text-anchor="end" fill="#111" class="t" >0</text>
<line x1="321.6" y1="302.2" x2="323.3" y2="302.2" stroke="#222" stroke-width="0.8" />
<line x1="320" y1="293.29" x2="323.3" y2="293.29" stroke="#222" stroke-width="0.9" />
<text x="318.5" y="294.99" font-size="6.7" text-anchor="end" fill="#111" class="t" >10</text>
<line x1="321.6" y1="284.39" x2="323.3" y2="284.39" stroke="#222" stroke-width="0.8" />
<line x1="320" y1="275.48" x2="323.3" y2="275.48" stroke="#222" stroke-width="0.9" />
<text x="318.5" y="277.18" font-size="6.7" text-anchor="end" fill="#111" class="t" >20</text>
<line x1="321.6" y1="266.58" x2="323.3" y2="266.58" stroke="#222" stroke-width="0.8" />
<line x1="320" y1="257.67" x2="323.3" y2="257.67" stroke="#222" stroke-width="0.9" />
<text x="318.5" y="259.37" font-size="6.7" text-anchor="end" fill="#111" class="t" >30</text>
<line x1="321.6" y1="248.77" x2="323.3" y2="248.77" stroke="#222" stroke-width="0.8" />
<line x1="320" y1="239.86" x2="323.3" y2="239.86" stroke="#222" stroke-width="0.9" />
<text x="318.5" y="241.56" font-size="6.7" text-anchor="end" fill="#111" class="t" >40</text>
<line x1="321.6" y1="230.96" x2="323.3" y2="230.96" stroke="#222" stroke-width="0.8" />
<line x1="320" y1="222.05" x2="323.3" y2="222.05" stroke="#222" stroke-width="0.9" />
<text x="318.5" y="223.75" font-size="6.7" text-anchor="end" fill="#111" class="t" >50</text>
<line x1="321.6" y1="213.15" x2="323.3" y2="213.15" stroke="#222" stroke-width="0.8" />
<line x1="320" y1="204.24" x2="323.3" y2="204.24" stroke="#222" stroke-width="0.9" />
<text x="318.5" y="205.94" font-size="6.7" text-anchor="end" fill="#111" class="t" >60</text>
<line x1="321.6" y1="195.34" x2="323.3" y2="195.34" stroke="#222" stroke-width="0.8" />
<line x1="320" y1="186.43" x2="323.3" y2="186.43" stroke="#222" stroke-width="0.9" />
<text x="318.5" y="188.13" font-size="6.7" text-anchor="end" fill="#111" class="t" >70</text>
<line x1="421.3" y1="311.1" x2="421.3" y2="314.1" stroke="#222" stroke-width="0.9" />
<text x="374.3" y="321.9" font-size="6.7" text-anchor="middle" fill="#111" class="t" >0.2</text>
<text x="467.8" y="319.9" font-size="6.7" text-anchor="middle" fill="#111" class="t" >0.4</text>
<text x="408" y="336.2" font-size="7.2" text-anchor="start" fill="#111" textLength="32.4" lengthAdjust="spacingAndGlyphs" class="t" >NaCl (M)</text>
<text x="0" y="0" font-size="7.2" text-anchor="middle" fill="#111" textLength="51" lengthAdjust="spacingAndGlyphs" class="t" transform="translate(303.6,252) rotate(-90)">HS eluted (%)</text>
<text x="0" y="0" font-size="15.2" text-anchor="start" fill="#000" font-weight="bold" transform="translate(294.9,190.9) scale(1.13,1)">D</text>
<rect x="355.6" y="278.6" width="11.9" height="32.5" fill="#fff" stroke="#111" stroke-width="0.8"/>
<rect x="367.5" y="288.6" width="10.9" height="22.5" fill="#000" stroke="#111" stroke-width="0.8"/>
<rect x="378.4" y="215.5" width="11" height="95.6" fill="#fff"/>
<clipPath id="cb1"><rect x="378.4" y="215.5" width="11" height="95.6"/></clipPath>
<path d="M269.4,312.1L367,214.5M276,312.1L373.6,214.5M282.6,312.1L380.2,214.5M289.2,312.1L386.8,214.5M295.8,312.1L393.4,214.5M302.4,312.1L400,214.5M309,312.1L406.6,214.5M315.6,312.1L413.2,214.5M322.2,312.1L419.8,214.5M328.8,312.1L426.4,214.5M335.4,312.1L433,214.5M342,312.1L439.6,214.5M348.6,312.1L446.2,214.5M355.2,312.1L452.8,214.5M361.8,312.1L459.4,214.5M368.4,312.1L466,214.5M375,312.1L472.6,214.5M381.6,312.1L479.2,214.5M388.2,312.1L485.8,214.5M394.8,312.1L492.4,214.5M401.4,312.1L499,214.5" stroke="#000" stroke-width="0.8" fill="none" clip-path="url(#cb1)"/>
<rect x="378.4" y="215.5" width="11" height="95.6" fill="none" stroke="#111" stroke-width="0.8"/>
<rect x="389.4" y="203.7" width="11" height="107.4" fill="#fff"/>
<clipPath id="cb2"><rect x="389.4" y="203.7" width="11" height="107.4"/></clipPath>
<path d="M269.2,312.1L378.6,202.7M275.4,312.1L384.8,202.7M281.6,312.1L391,202.7M287.8,312.1L397.2,202.7M294,312.1L403.4,202.7M300.2,312.1L409.6,202.7M306.4,312.1L415.8,202.7M312.6,312.1L422,202.7M318.8,312.1L428.2,202.7M325,312.1L434.4,202.7M331.2,312.1L440.6,202.7M337.4,312.1L446.8,202.7M343.6,312.1L453,202.7M349.8,312.1L459.2,202.7M356,312.1L465.4,202.7M362.2,312.1L471.6,202.7M368.4,312.1L477.8,202.7M374.6,312.1L484,202.7M380.8,312.1L490.2,202.7M387,312.1L496.4,202.7M393.2,312.1L502.6,202.7M399.4,312.1L508.8,202.7M405.6,312.1L515,202.7M411.8,312.1L521.2,202.7M270,202.7L379.4,312.1M276.2,202.7L385.6,312.1M282.4,202.7L391.8,312.1M288.6,202.7L398,312.1M294.8,202.7L404.2,312.1M301,202.7L410.4,312.1M307.2,202.7L416.6,312.1M313.4,202.7L422.8,312.1M319.6,202.7L429,312.1M325.8,202.7L435.2,312.1M332,202.7L441.4,312.1M338.2,202.7L447.6,312.1M344.4,202.7L453.8,312.1M350.6,202.7L460,312.1M356.8,202.7L466.2,312.1M363,202.7L472.4,312.1M369.2,202.7L478.6,312.1M375.4,202.7L484.8,312.1M381.6,202.7L491,312.1M387.8,202.7L497.2,312.1M394,202.7L503.4,312.1M400.2,202.7L509.6,312.1M406.4,202.7L515.8,312.1" stroke="#000" stroke-width="0.8" fill="none" clip-path="url(#cb2)"/>
<rect x="389.4" y="203.7" width="11" height="107.4" fill="none" stroke="#111" stroke-width="0.8"/>
<rect x="400.4" y="190.1" width="11.2" height="121" fill="#fff"/>
<clipPath id="cb3"><rect x="400.4" y="190.1" width="11.2" height="121"/></clipPath>
<path d="M399.4,194.7L412.6,194.7M399.4,199.3L412.6,199.3M399.4,203.9L412.6,203.9M399.4,208.5L412.6,208.5M399.4,213.1L412.6,213.1M399.4,217.7L412.6,217.7M399.4,222.3L412.6,222.3M399.4,226.9L412.6,226.9M399.4,231.5L412.6,231.5M399.4,236.1L412.6,236.1M399.4,240.7L412.6,240.7M399.4,245.3L412.6,245.3M399.4,249.9L412.6,249.9M399.4,254.5L412.6,254.5M399.4,259.1L412.6,259.1M399.4,263.7L412.6,263.7M399.4,268.3L412.6,268.3M399.4,272.9L412.6,272.9M399.4,277.5L412.6,277.5M399.4,282.1L412.6,282.1M399.4,286.7L412.6,286.7M399.4,291.3L412.6,291.3M399.4,295.9L412.6,295.9M399.4,300.5L412.6,300.5M399.4,305.1L412.6,305.1M399.4,309.7L412.6,309.7" stroke="#000" stroke-width="0.85" fill="none" clip-path="url(#cb3)"/>
<rect x="400.4" y="190.1" width="11.2" height="121" fill="none" stroke="#111" stroke-width="0.8"/>
<rect x="453" y="310.83" width="11" height="0.27" fill="#fff" stroke="#111" stroke-width="0.8"/>
<rect x="464" y="310.57" width="11.1" height="0.53" fill="#000" stroke="#111" stroke-width="0.8"/>
<rect x="475.1" y="310.39" width="11.1" height="0.71" fill="#fff"/>
<clipPath id="cb4"><rect x="475.1" y="310.39" width="11.1" height="0.71"/></clipPath>
<path d="M460.8,312.1L463.51,309.39M467.4,312.1L470.11,309.39M474,312.1L476.71,309.39M480.6,312.1L483.31,309.39M487.2,312.1L489.91,309.39M493.8,312.1L496.51,309.39" stroke="#000" stroke-width="0.8" fill="none" clip-path="url(#cb4)"/>
<rect x="475.1" y="310.39" width="11.1" height="0.71" fill="none" stroke="#111" stroke-width="0.8"/>
<rect x="486.2" y="307.4" width="11" height="3.7" fill="#fff"/>
<clipPath id="cb5"><rect x="486.2" y="307.4" width="11" height="3.7"/></clipPath>
<path d="M473.8,312.1L479.5,306.4M480,312.1L485.7,306.4M486.2,312.1L491.9,306.4M492.4,312.1L498.1,306.4M498.6,312.1L504.3,306.4M504.8,312.1L510.5,306.4M472.9,306.4L478.6,312.1M479.1,306.4L484.8,312.1M485.3,306.4L491,312.1M491.5,306.4L497.2,312.1M497.7,306.4L503.4,312.1M503.9,306.4L509.6,312.1" stroke="#000" stroke-width="0.8" fill="none" clip-path="url(#cb5)"/>
<rect x="486.2" y="307.4" width="11" height="3.7" fill="none" stroke="#111" stroke-width="0.8"/>
<rect x="497.2" y="300.5" width="11.1" height="10.6" fill="#fff"/>
<clipPath id="cb6"><rect x="497.2" y="300.5" width="11.1" height="10.6"/></clipPath>
<path d="M496.2,305.1L509.3,305.1M496.2,309.7L509.3,309.7" stroke="#000" stroke-width="0.85" fill="none" clip-path="url(#cb6)"/>
<rect x="497.2" y="300.5" width="11.1" height="10.6" fill="none" stroke="#111" stroke-width="0.8"/>
</svg></body></html>
